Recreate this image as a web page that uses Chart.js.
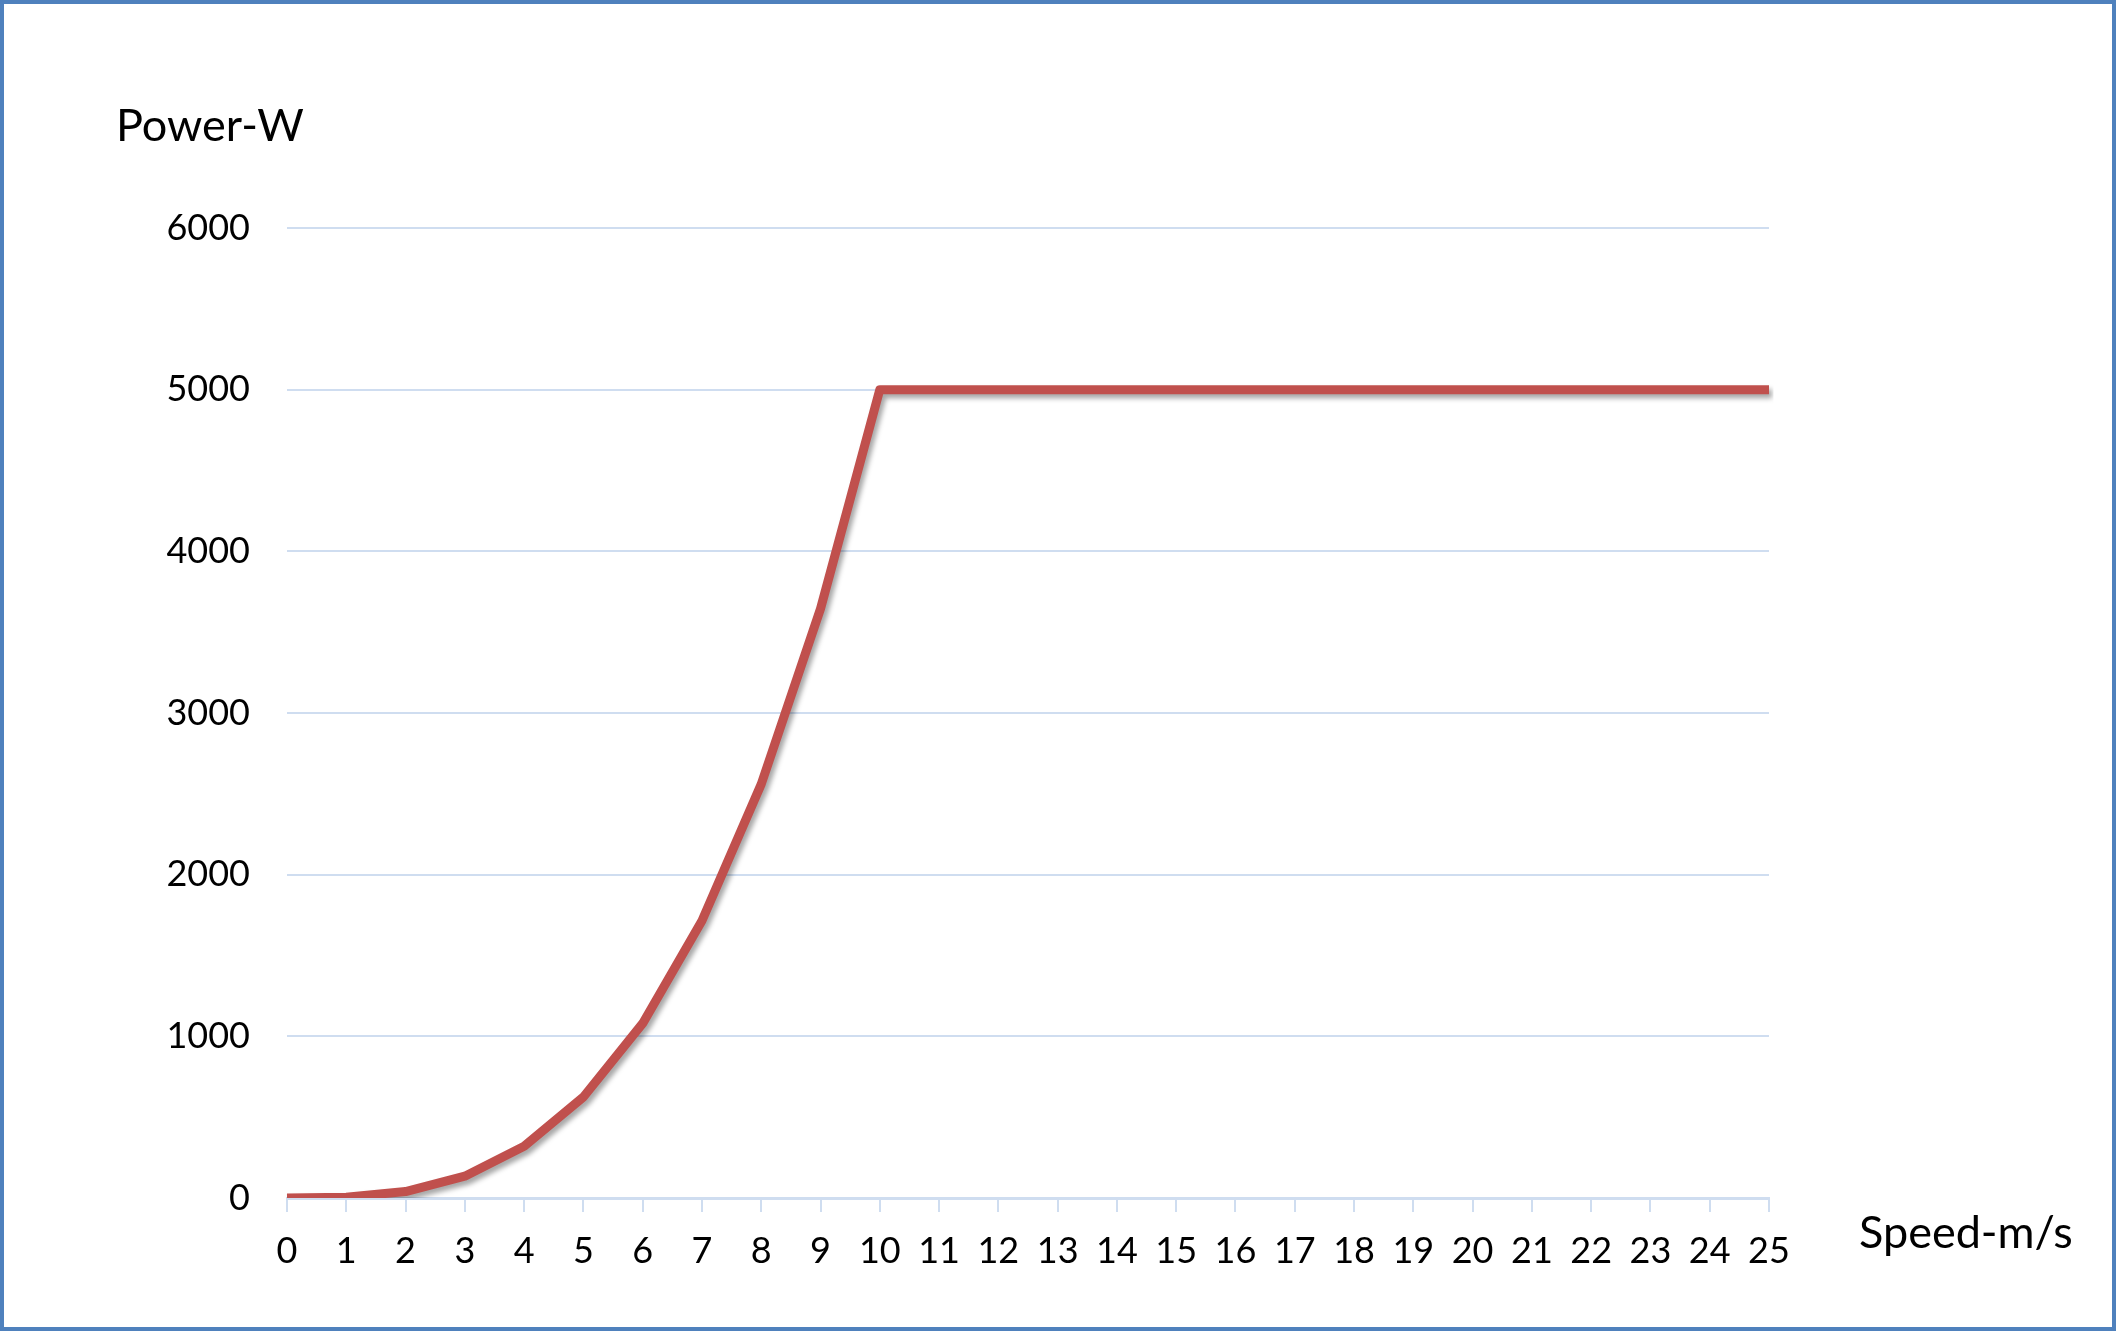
<!DOCTYPE html>
<html>
<head>
<meta charset="utf-8">
<script src="https://cdn.jsdelivr.net/npm/chart.js@4.4.1/dist/chart.umd.min.js"></script>
<style>
html,body{margin:0;padding:0;background:#fff;}
#wrap{width:2116px;height:1331px;position:relative;}
</style>
</head>
<body>
<div id="wrap"><canvas id="c" width="2116" height="1331"></canvas></div>
<script>
const speeds = [0,1,2,3,4,5,6,7,8,9,10,11,12,13,14,15,16,17,18,19,20,21,22,23,24,25];
const power = [0,5,40,135,320,625,1080,1715,2560,3645,5000,5000,5000,5000,5000,5000,5000,5000,5000,5000,5000,5000,5000,5000,5000,5000];
const yTicks = [0,1000,2000,3000,4000,5000,6000];
const yTitle = 'Power-W';
const xTitle = 'Speed-m/s';

const FONT = 'Lato, "Open Sans", sans-serif';
const gridColor = '#CFDDF0';

const extras = {
  id: 'extras',
  beforeDatasetsDraw(chart) {
    const ctx = chart.ctx;
    ctx.save();
    ctx.shadowColor = 'rgba(0,0,0,0.35)';
    ctx.shadowBlur = 5;
    ctx.shadowOffsetX = 3;
    ctx.shadowOffsetY = 4;
  },
  afterDatasetsDraw(chart) {
    chart.ctx.restore();
  },
  afterDraw(chart) {
    const ctx = chart.ctx;
    ctx.save();
    ctx.fillStyle = '#000';
    ctx.textBaseline = 'middle';
    ctx.textAlign = 'left';
    ctx.font = '45px ' + FONT;
    ctx.fillText(yTitle, 116, 126);
    ctx.fillText(xTitle, 1859, 1233);
    ctx.strokeStyle = '#4F81BD';
    ctx.lineWidth = 4;
    ctx.strokeRect(2, 2, 2112, 1327);
    ctx.restore();
  }
};

new Chart(document.getElementById('c'), {
  type: 'line',
  data: {
    labels: speeds.map(String),
    datasets: [{
      data: power,
      borderColor: '#C0504D',
      borderWidth: 9,
      pointRadius: 0,
      fill: false,
      tension: 0,
      borderJoinStyle: 'round',
      borderCapStyle: 'butt'
    }]
  },
  options: {
    responsive: false,
    devicePixelRatio: 1,
    animation: false,
    layout: { padding: { left: 0, right: 347, top: 228, bottom: 0 } },
    plugins: { legend: { display: false }, tooltip: { enabled: false }, title: { display: false } },
    scales: {
      x: {
        type: 'category',
        offset: false,
        grid: { display: true, drawOnChartArea: false, drawTicks: true, tickLength: 14, color: gridColor, lineWidth: 2 },
        border: { display: true, color: gridColor, width: 3 },
        ticks: { color: '#000', font: { size: 36, family: FONT }, padding: 18, maxRotation: 0, autoSkip: false },
        afterFit(s) { s.height = 133; }
      },
      y: {
        min: 0, max: 6000,
        afterBuildTicks(s) { s.ticks = yTicks.map(v => ({ value: v })); },
        grid: { display: true, drawTicks: false, color: gridColor, lineWidth: 2 },
        border: { display: false },
        ticks: { color: '#000', font: { size: 36, family: FONT }, padding: 37, callback: v => String(v) },
        afterFit(s) { s.width = 287; }
      }
    }
  },
  plugins: [extras]
});
</script>
</body>
</html>
